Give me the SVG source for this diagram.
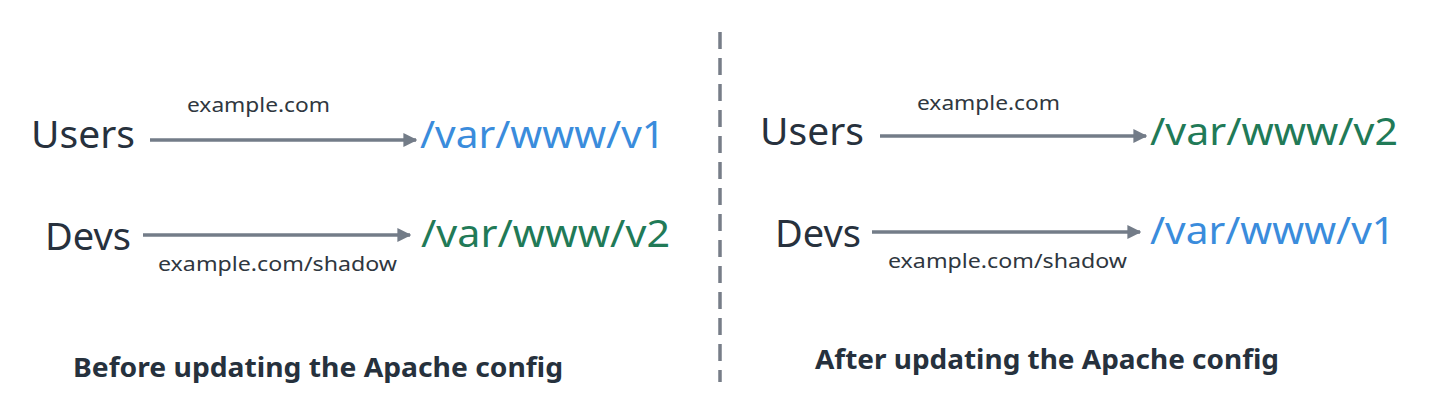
<svg xmlns="http://www.w3.org/2000/svg" width="1432" height="417" viewBox="0 0 1432 417">
<defs>
<style>
.lbl{font-family:"Noto Sans","Liberation Sans",sans-serif;font-size:39px;fill:#27313d}
.path{font-family:"Noto Sans","Liberation Sans",sans-serif;font-size:39px}
.blue{fill:#3a8cdc}
.green{fill:#217a57}
.url{font-family:"Noto Sans","Liberation Sans",sans-serif;font-size:19px;fill:#2f3740}
.title{font-family:"Noto Sans","Liberation Sans",sans-serif;font-size:27px;font-weight:bold;fill:#26313d}
.arrow{stroke:#737c88;stroke-width:3.5;fill:none}
</style>
<marker id="ah" viewBox="0 0 10 10" refX="9" refY="5" markerWidth="4" markerHeight="4" orient="auto" markerUnits="strokeWidth">
<path d="M0,0 L10,5 L0,10 Z" fill="#737c88"/>
</marker>
</defs>
<rect width="1432" height="417" fill="#ffffff"/>
<line x1="720" y1="32" x2="720" y2="382" stroke="#777d88" stroke-width="3.5" stroke-dasharray="17 9"/>
<g id="connectors">
<line class="arrow" x1="150" y1="140" x2="416" y2="140" marker-end="url(#ah)"/>
<line class="arrow" x1="143" y1="235" x2="410" y2="235" marker-end="url(#ah)"/>
<line class="arrow" x1="880" y1="136" x2="1146" y2="136" marker-end="url(#ah)"/>
<line class="arrow" x1="872" y1="232" x2="1140" y2="232" marker-end="url(#ah)"/>
</g>
<g id="left-users"><text class="lbl" x="31" y="148" textLength="104" lengthAdjust="spacingAndGlyphs">Users</text></g>
<g id="left-v1"><text class="path blue" x="420" y="148" textLength="245" lengthAdjust="spacingAndGlyphs">/var/www/v1</text></g>
<g id="left-example"><text class="url" x="187" y="112" textLength="143" lengthAdjust="spacingAndGlyphs">example.com</text></g>
<g id="left-devs"><text class="lbl" x="45" y="250" textLength="86" lengthAdjust="spacingAndGlyphs">Devs</text></g>
<g id="left-v2"><text class="path green" x="421" y="247" textLength="249" lengthAdjust="spacingAndGlyphs">/var/www/v2</text></g>
<g id="left-shadow"><text class="url" x="158" y="271" textLength="239" lengthAdjust="spacingAndGlyphs">example.com/shadow</text></g>
<g id="left-title"><text class="title" x="73" y="377" textLength="490" lengthAdjust="spacingAndGlyphs">Before updating the Apache config</text></g>
<g id="right-users"><text class="lbl" x="760" y="145" textLength="104" lengthAdjust="spacingAndGlyphs">Users</text></g>
<g id="right-v2"><text class="path green" x="1150" y="145" textLength="248" lengthAdjust="spacingAndGlyphs">/var/www/v2</text></g>
<g id="right-example"><text class="url" x="917" y="110" textLength="143" lengthAdjust="spacingAndGlyphs">example.com</text></g>
<g id="right-devs"><text class="lbl" x="775" y="247" textLength="86" lengthAdjust="spacingAndGlyphs">Devs</text></g>
<g id="right-v1"><text class="path blue" x="1150" y="244" textLength="245" lengthAdjust="spacingAndGlyphs">/var/www/v1</text></g>
<g id="right-shadow"><text class="url" x="888" y="268" textLength="239" lengthAdjust="spacingAndGlyphs">example.com/shadow</text></g>
<g id="right-title"><text class="title" x="815" y="369" textLength="464" lengthAdjust="spacingAndGlyphs">After updating the Apache config</text></g>
</svg>
